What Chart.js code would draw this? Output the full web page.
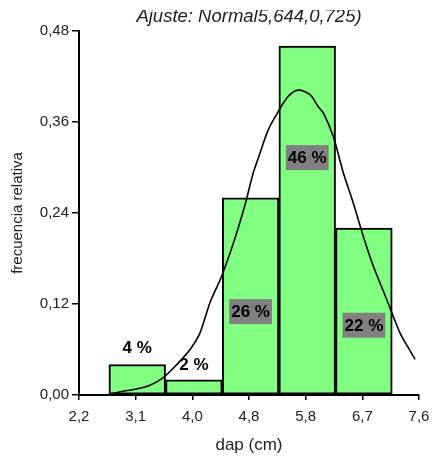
<!DOCTYPE html>
<html>
<head>
<meta charset="utf-8">
<script src="https://cdn.jsdelivr.net/npm/chart.js@4"></script>
<style>
  body { margin: 0; background: #fff; }
  #wrap { width: 434px; height: 459px; }
</style>
</head>
<body>
<div id="wrap"><canvas id="hist" width="434" height="459"></canvas></div>
<script>
// histogram bins (centre of each class, cm) and relative frequency
const binCenters = [3.125, 4.025, 4.925, 5.825, 6.725];
const relFreq = [0.04, 0.02, 0.26, 0.46, 0.22];
const pctLabels = ['4 %', '2 %', '26 %', '46 %', '22 %'];
const labelY = [0.063, 0.041, 0.110, 0.313, 0.092];
const labelBoxed = [false, false, true, true, true];

// fitted normal curve
const fitX = [2.692, 2.899, 3.116, 3.328, 3.539, 3.752, 3.963, 4.122, 4.281, 4.467,
              4.651, 4.837, 4.968, 5.075, 5.207, 5.366, 5.524, 5.683, 5.869, 6.001,
              6.080, 6.239, 6.398, 6.557, 6.716, 6.874, 7.087, 7.298, 7.510, 7.537];
const fitY = [0.001, 0.005, 0.008, 0.013, 0.023, 0.040, 0.060, 0.082, 0.122, 0.157,
              0.200, 0.251, 0.293, 0.319, 0.350, 0.374, 0.394, 0.402, 0.396, 0.380,
              0.372, 0.341, 0.293, 0.253, 0.209, 0.170, 0.126, 0.082, 0.051, 0.047];

const xTickValues = [2.2, 3.1, 4.0, 4.9, 5.8, 6.7, 7.6];
const xTickLabels = ['2,2', '3,1', '4,0', '4,8', '5,8', '6,7', '7,6'];
const yTickValues = [0, 0.12, 0.24, 0.36, 0.48];

const titleText = 'Ajuste: Normal5,644,0,725)';
const FONT = 'Arial, "Liberation Sans", sans-serif';

const labelPlugin = {
    id: 'labels',
    afterDatasetsDraw(chart) {
        const ctx = chart.ctx;
        const xs = chart.scales.x, ys = chart.scales.y;
        ctx.save();
        ctx.font = 'bold 17px ' + FONT;
        ctx.textAlign = 'center';
        ctx.textBaseline = 'middle';
        pctLabels.forEach((txt, i) => {
            const px = xs.getPixelForValue(binCenters[i]);
            const py = ys.getPixelForValue(labelY[i]);
            if (labelBoxed[i]) {
                const w = ctx.measureText(txt).width + 4;
                ctx.fillStyle = '#808080';
                ctx.fillRect(px - w / 2, py - 12.5, w, 25);
            }
            ctx.fillStyle = '#000';
            ctx.fillText(txt, px, py + 1);
        });
        // title, cut at the top as in the source image
        const a = chart.chartArea;
        ctx.beginPath();
        ctx.rect(0, 10, chart.width, 40);
        ctx.clip();
        ctx.font = 'italic 18.5px ' + FONT;
        ctx.textBaseline = 'alphabetic';
        ctx.fillStyle = '#222';
        ctx.fillText(titleText, (a.left + a.right) / 2, 22);
        ctx.restore();
    }
};

const chart = new Chart(document.getElementById('hist'), {
    type: 'bar',
    data: {
        datasets: [{
            type: 'line',
            data: fitX.map((x, i) => ({ x: x, y: fitY[i] })),
            borderColor: '#000',
            borderWidth: 1.6,
            pointRadius: 0,
            tension: 0.3,
            order: 0
        }, {
            type: 'bar',
            data: binCenters.map((x, i) => ({ x: x, y: relFreq[i] })),
            backgroundColor: '#80ff80',
            borderColor: '#000',
            borderWidth: 2,
            borderSkipped: false,
            barPercentage: 1,
            categoryPercentage: 1,
            order: 1
        }]
    },
    options: {
        animation: false, responsive: false, maintainAspectRatio: false,
        layout: { padding: { top: 31, right: 15, left: 0, bottom: 0 } },
        plugins: { legend: { display: false }, tooltip: { enabled: false } },
        scales: {
            x: {
                type: 'linear', min: 2.2, max: 7.6, offset: false,
                afterBuildTicks: s => { s.ticks = xTickValues.map(v => ({ value: v })); },
                afterFit: s => { s.height = 64; s.paddingLeft = 10; s.paddingRight = 10; },
                ticks: {
                    autoSkip: false, maxRotation: 0, padding: 8,
                    color: '#222', font: { family: FONT, size: 15 },
                    callback: (v, i) => xTickLabels[i]
                },
                grid: { offset: false, drawOnChartArea: false, drawTicks: true, tickLength: 5, color: '#000', lineWidth: 1.5 },
                border: { display: true, color: '#000', width: 2 },
                title: { display: true, text: 'dap (cm)', color: '#222',
                         font: { family: FONT, size: 17 }, padding: { top: 0, bottom: 3 } }
            },
            y: {
                min: 0, max: 0.48,
                afterBuildTicks: s => { s.ticks = yTickValues.map(v => ({ value: v })); },
                afterFit: s => { s.width = 79; },
                ticks: {
                    padding: 3, color: '#222', font: { family: FONT, size: 15 },
                    callback: v => v.toFixed(2).replace('.', ',')
                },
                grid: { drawOnChartArea: false, drawTicks: true, tickLength: 7, color: '#000', lineWidth: 1.5 },
                border: { display: true, color: '#000', width: 2 },
                title: { display: true, text: 'frecuencia relativa', color: '#222',
                         font: { family: FONT, size: 15 }, padding: { top: 9, bottom: 0 } }
            }
        }
    },
    plugins: [labelPlugin]
});
</script>
</body>
</html>
